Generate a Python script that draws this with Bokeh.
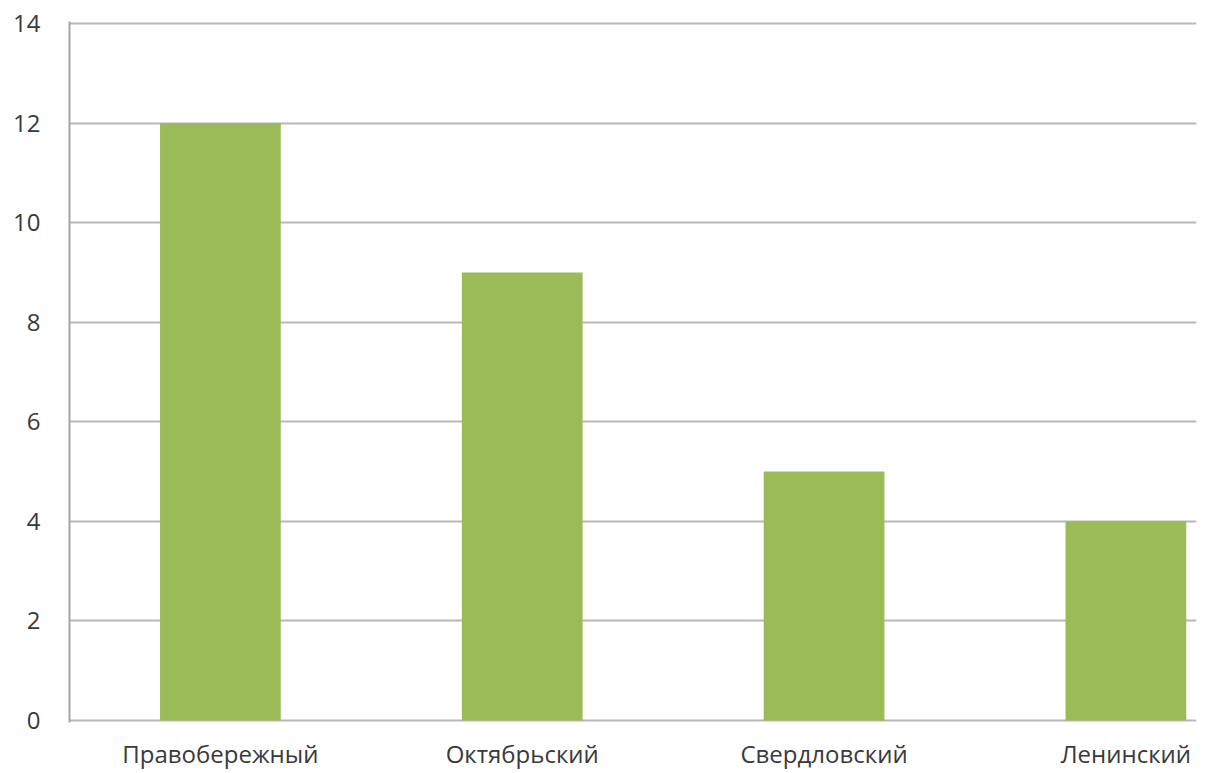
from bokeh.plotting import figure
from bokeh.models import ColumnDataSource, Range1d, FixedTicker
from bokeh.embed import file_html
from bokeh.resources import INLINE

categories = ["Правобережный", "Октябрьский", "Свердловский", "Ленинский"]
values = [12, 9, 5, 4]
y_ticks = [0, 2, 4, 6, 8, 10, 12, 14]

xs = [i + 0.5 for i in range(len(categories))]
src = ColumnDataSource(dict(x=xs, top=values, name=categories))

p = figure(width=1206, height=773, output_backend="svg", toolbar_location=None,
           x_range=Range1d(0, 3.734), y_range=Range1d(-0.04, 14.04),
           min_border_left=69, min_border_right=10, min_border_top=21, min_border_bottom=51)
p.outline_line_color = None
p.background_fill_color = "white"
p.border_fill_color = "white"

p.vbar(x="x", top="top", width=0.4, bottom=0, source=src, fill_color="#9BBB59", line_color=None)

font = "Open Sans"
p.yaxis.ticker = FixedTicker(ticks=y_ticks)
p.yaxis.axis_line_color = "#a6a6a6"
p.yaxis.axis_line_width = 2
p.yaxis.major_tick_line_color = None
p.yaxis.minor_tick_line_color = None
p.yaxis.major_label_standoff = 23
p.yaxis.major_label_text_font = font
p.yaxis.major_label_text_font_size = "24px"
p.yaxis.major_label_text_color = "#3a3a3a"

p.xaxis.ticker = FixedTicker(ticks=xs)
p.xaxis.major_label_overrides = {x: c for x, c in zip(xs, categories)}
p.xaxis.axis_line_color = None
p.xaxis.major_tick_line_color = None
p.xaxis.minor_tick_line_color = None
p.xaxis.major_label_standoff = 8
p.xaxis.major_label_text_font = font
p.xaxis.major_label_text_font_size = "24px"
p.xaxis.major_label_text_color = "#3a3a3a"

p.xgrid.grid_line_color = None
p.ygrid.ticker = FixedTicker(ticks=y_ticks)
p.ygrid.grid_line_color = "#b8b8b8"
p.ygrid.grid_line_width = 2

open("out.html", "w").write(file_html(p, INLINE))
